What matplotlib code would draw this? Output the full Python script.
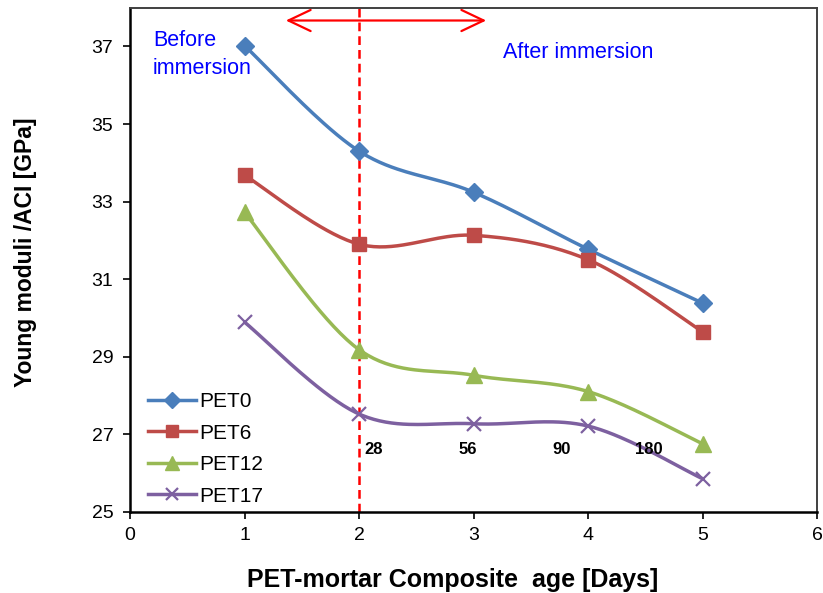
import numpy as np
import matplotlib
matplotlib.use("Agg")
import matplotlib.pyplot as plt

plt.rcParams["font.family"] = ["Liberation Sans", "DejaVu Sans"]

# data
ages = [1, 2, 3, 4, 5]
pet0 = [37.02, 34.30, 33.24, 31.77, 30.38]
pet6 = [33.68, 31.90, 32.13, 31.50, 29.64]
pet12 = [32.72, 29.18, 28.52, 28.10, 26.75]
pet17 = [29.89, 27.52, 27.27, 27.21, 25.85]
series_names = ["PET0", "PET6", "PET12", "PET17"]
day_labels = ["28", "56", "90", "180"]
day_label_x = [2.13, 2.95, 3.77, 4.53]


def smooth(x, y, n=40):
    # Excel-style smoothed line: bezier segments with catmull-rom control points
    x = np.asarray(x, float)
    y = np.asarray(y, float)
    px = np.concatenate([[x[0]], x, [x[-1]]])
    py = np.concatenate([[y[0]], y, [y[-1]]])
    t = np.linspace(0, 1, n)
    xs, ys = [], []
    for i in range(1, len(px) - 2):
        p0 = np.array([px[i], py[i]])
        p3 = np.array([px[i + 1], py[i + 1]])
        c1 = p0 + (p3 - np.array([px[i - 1], py[i - 1]])) / 6.0
        c2 = p3 - (np.array([px[i + 2], py[i + 2]]) - p0) / 6.0
        b = ((1 - t) ** 3)[:, None] * p0 + (3 * (1 - t) ** 2 * t)[:, None] * c1 \
            + (3 * (1 - t) * t ** 2)[:, None] * c2 + (t ** 3)[:, None] * p3
        xs.append(b[:, 0])
        ys.append(b[:, 1])
    return np.concatenate(xs), np.concatenate(ys)


fig = plt.figure(figsize=(8.23, 5.93), dpi=100)
ax = fig.add_axes([0.158, 0.137, 0.835, 0.85])

styles = [
    ("#4A7EBB", "D", 9, 1.0),
    ("#BE4B48", "s", 9.5, 1.0),
    ("#98B954", "^", 11, 1.0),
    ("#7D60A0", "x", 10, 1.6),
]
for vals, name, (col, mk, ms, mew) in zip([pet0, pet6, pet12, pet17], series_names, styles):
    sx, sy = smooth(ages, vals)
    ax.plot(sx, sy, color=col, lw=2.5, solid_capstyle="round")
    ax.plot(ages, vals, ls="none", marker=mk, ms=ms, color=col, mew=mew)
    ax.plot([], [], color=col, lw=2.5, marker=mk, ms=ms - 1, mew=mew, label=name)

ax.axvline(2, color="#FF0000", lw=1.8, ls=(0, (3.5, 2)), zorder=1)

ax.annotate("", xy=(1.36, 37.67), xytext=(3.11, 37.67),
            arrowprops=dict(arrowstyle="<->,head_length=0.8,head_width=0.38",
                            color="#FF0000", lw=1.6, mutation_scale=20,
                            shrinkA=0, shrinkB=0))

ax.text(0.2, 37.42, "Before\nimmersion", color="#0000FF", fontsize=15.5,
        va="top", ha="left", linespacing=1.45)
ax.text(3.26, 36.85, "After immersion", color="#0000FF", fontsize=15.5,
        va="center", ha="left")

for lx, lab in zip(day_label_x, day_labels):
    ax.text(lx, 26.6, lab, fontsize=12, fontweight="bold", ha="center", va="center")

ax.set_xlim(0, 6)
ax.set_ylim(25, 38)
ax.set_xticks(range(0, 7))
ax.set_yticks(range(25, 38, 2))
ax.tick_params(axis="both", direction="out", length=5, width=1.2, labelsize=14)
ax.tick_params(axis="x", pad=6)
ax.tick_params(axis="y", pad=7)

for s in ["left", "bottom"]:
    ax.spines[s].set_linewidth(1.8)
    ax.spines[s].set_color("black")
for s in ["top", "right"]:
    ax.spines[s].set_linewidth(1.4)
    ax.spines[s].set_color("#404040")

ax.set_xlabel("PET-mortar Composite  age [Days]", fontsize=18, fontweight="bold")
ax.set_ylabel("Young moduli /ACI [GPa]", fontsize=16.5, fontweight="bold")
ax.xaxis.set_label_coords(0.47, -0.112)
ax.yaxis.set_label_coords(-0.135, 0.514)

ax.legend(loc="lower left", bbox_to_anchor=(0.026, 0.012), frameon=False,
          fontsize=15, handlelength=2.3, handletextpad=0.15, labelspacing=0.6,
          borderpad=0, borderaxespad=0)

fig.savefig("out.png", dpi=100)
